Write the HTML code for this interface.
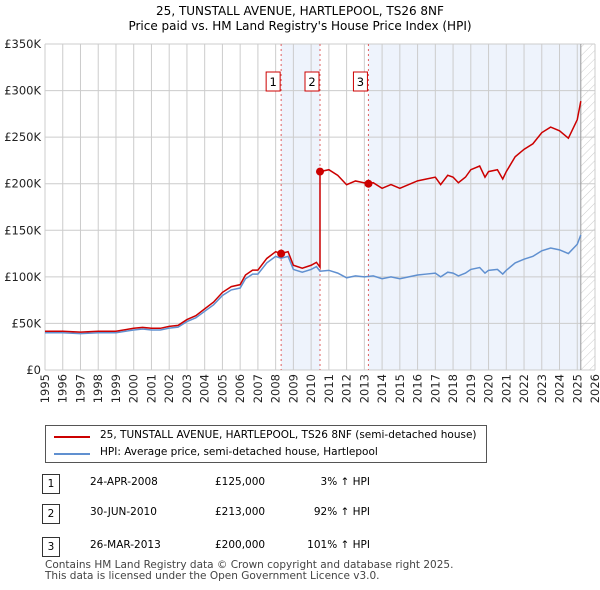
<!DOCTYPE html>
<html><head><meta charset="utf-8"><style>
body{margin:0;background:#fff;font-family:"DejaVu Sans","Liberation Sans",sans-serif;}
.t{position:absolute;font-size:11px;color:#000;white-space:nowrap;}
svg text{font-family:"DejaVu Sans","Liberation Sans",sans-serif;}
</style></head><body>
<div style="position:relative;width:600px;height:590px;overflow:hidden">
<div class="t" style="left:0;width:600px;text-align:center;top:4px;font-size:12px;line-height:15px">25, TUNSTALL AVENUE, HARTLEPOOL, TS26 8NF<br>Price paid vs. HM Land Registry's House Price Index (HPI)</div>
<svg id="svg" width="600" height="420" style="position:absolute;left:0;top:0"></svg>
<div style="position:absolute;left:45px;top:425px;width:440px;height:36px;border:1px solid #555">
 <div style="position:absolute;left:8px;top:10px;width:36px;height:2px;background:#cc0000"></div>
 <div class="t" style="left:54px;top:3px;font-size:10.5px">25, TUNSTALL AVENUE, HARTLEPOOL, TS26 8NF (semi-detached house)</div>
 <div style="position:absolute;left:8px;top:27px;width:36px;height:2px;background:#6090d0"></div>
 <div class="t" style="left:54px;top:20px;font-size:10.5px">HPI: Average price, semi-detached house, Hartlepool</div>
</div>
<div id="tbl"></div>
<div class="t" style="left:45px;top:560px;font-size:10.5px;color:#444;line-height:11px">Contains HM Land Registry data © Crown copyright and database right 2025.<br>This data is licensed under the Open Government Licence v3.0.</div>
</div>
<script>
const hpiYears=[1995,1996,1997,1998,1999,2000,2000.5,2001,2001.5,2002,2002.5,2003,2003.5,2004,2004.5,2005,2005.5,2006,2006.3,2006.7,2007,2007.5,2008,2008.3,2008.7,2009,2009.5,2010,2010.3,2010.5,2011,2011.5,2012,2012.5,2013,2013.5,2014,2014.5,2015,2015.5,2016,2016.5,2017,2017.3,2017.7,2018,2018.3,2018.7,2019,2019.5,2019.8,2020,2020.5,2020.8,2021,2021.5,2022,2022.5,2023,2023.5,2024,2024.5,2025,2025.2];
const hpiValues=[40,40,39,40,40,43,44,43,43,45,46,52,56,63,70,80,86,88,98,103,103,115,122,120,122,108,105,108,111,106,107,104,99,101,100,101,98,100,98,100,102,103,104,100,105,104,101,104,108,110,104,107,108,103,107,115,119,122,128,131,129,125,135,145];
const saleYears=[2008.31,2010.5,2013.23];
const salePrices=[125,213,200];
const saleLabels=["1","2","3"];
const saleDates=["24-APR-2008","30-JUN-2010","26-MAR-2013"];
const salePriceText=["£125,000","£213,000","£200,000"];
const saleHpiText=["3% ↑ HPI","92% ↑ HPI","101% ↑ HPI"];
const yTicks=[0,50,100,150,200,250,300,350];
const yTickLabels=["£0","£50K","£100K","£150K","£200K","£250K","£300K","£350K"];
const xTicks=[1995,1996,1997,1998,1999,2000,2001,2002,2003,2004,2005,2006,2007,2008,2009,2010,2011,2012,2013,2014,2015,2016,2017,2018,2019,2020,2021,2022,2023,2024,2025,2026];
const L=45,R=595,T=44,B=370;
const X=y=>L+(y-1995)/(2026-1995)*(R-L);
const Y=v=>B-v/350*(B-T);
const ns="http://www.w3.org/2000/svg",svg=document.getElementById('svg');
function add(tag,at,txt){const e=document.createElementNS(ns,tag);for(const k in at)e.setAttribute(k,at[k]);if(txt!=null)e.textContent=txt;svg.appendChild(e);return e;}
function hpiAt(t){for(let i=0;i<hpiYears.length-1;i++){if(t<=hpiYears[i+1]){const f=(t-hpiYears[i])/(hpiYears[i+1]-hpiYears[i]);return hpiValues[i]+f*(hpiValues[i+1]-hpiValues[i]);}}return hpiValues[hpiValues.length-1];}
let r=add('rect',{x:X(saleYears[0]),y:T,width:X(saleYears[1])-X(saleYears[0]),height:B-T,fill:'#eef3fc'});

r=add('rect',{x:X(saleYears[2]),y:T,width:X(2025.2)-X(saleYears[2]),height:B-T,fill:'#eef3fc'});

const defs=add('defs',{});defs.innerHTML='<pattern id="h" width="6" height="6" patternUnits="userSpaceOnUse" patternTransform="rotate(45)"><line x1="0" y1="0" x2="0" y2="6" stroke="#ccc" stroke-width="1"/></pattern>';
r=add('rect',{x:X(2025.2),y:T,width:R-X(2025.2),height:B-T,fill:'url(#h)'});

xTicks.forEach(t=>{let g=add('line',{x1:X(t),x2:X(t),y1:T,y2:B,stroke:'#ccc'});
 let tx=add('text',{x:0,y:0,transform:`translate(${X(t)+4},${B+4}) rotate(-90)`,'text-anchor':'end','font-size':11.5,fill:'#222'},t);});
yTicks.forEach((v,i)=>{let g=add('line',{x1:L,x2:R,y1:Y(v),y2:Y(v),stroke:'#ccc'});
 let tx=add('text',{x:L-4,y:Y(v)+4,'text-anchor':'end','font-size':11.5,fill:'#222'},yTickLabels[i]);});
let ax=add('line',{x1:X(2025.2),x2:X(2025.2),y1:T,y2:B,stroke:'#999'});
saleYears.forEach((s,i)=>{let l=add('line',{x1:X(s),x2:X(s),y1:T,y2:B,stroke:'#e06060','stroke-dasharray':'2,3'});
 let b=add('rect',{x:X(s)-15,y:72,width:14,height:19,fill:'#fff',stroke:'#cc0000'});
 let t=add('text',{x:X(s)-8,y:86,'text-anchor':'middle','font-size':11.5},saleLabels[i]);});
let p=hpiYears.map((t,i)=>X(t)+','+Y(hpiValues[i])).join(' ');
let hl=add('polyline',{points:p,fill:'none',stroke:'#6090d0','stroke-width':1.5});
const ratios=saleYears.map((s,i)=>salePrices[i]/hpiAt(s));
function ratioAt(t){let r=ratios[0];for(let i=0;i<saleYears.length;i++)if(t>=saleYears[i])r=ratios[i];return r;}
let pts=[];hpiYears.forEach((t,i)=>{
 saleYears.forEach((s,k)=>{if(i>0&&hpiYears[i-1]<s&&t>=s){const h=hpiAt(s);pts.push([s,h*(k?ratios[k-1]:ratios[0])]);pts.push([s,salePrices[k]]);}});
 pts.push([t,hpiValues[i]*ratioAt(t)]);});
let pl=add('polyline',{points:pts.map(q=>X(q[0])+','+Y(q[1])).join(' '),fill:'none',stroke:'#cc0000','stroke-width':1.5});
saleYears.forEach((s,i)=>{let c=add('circle',{cx:X(s),cy:Y(salePrices[i]),r:4,fill:'#cc0000'});});
const tbl=document.getElementById('tbl');const rowsY=[482,512,545];
saleYears.forEach((s,i)=>{const y=rowsY[i];
 tbl.insertAdjacentHTML('beforeend',`<div style="position:absolute;left:42px;top:${y-8}px;width:16px;height:18px;border:1px solid #333;text-align:center;font-size:10.5px;line-height:18px">${saleLabels[i]}</div>
 <div class="t" style="left:90px;top:${y-6}px;font-size:10.5px">${saleDates[i]}</div>
 <div class="t" style="left:215px;top:${y-6}px;font-size:10.5px">${salePriceText[i]}</div>
 <div class="t" style="left:280px;width:90px;text-align:right;top:${y-6}px;font-size:10.5px">${saleHpiText[i]}</div>`);});
</script>
</body></html>
